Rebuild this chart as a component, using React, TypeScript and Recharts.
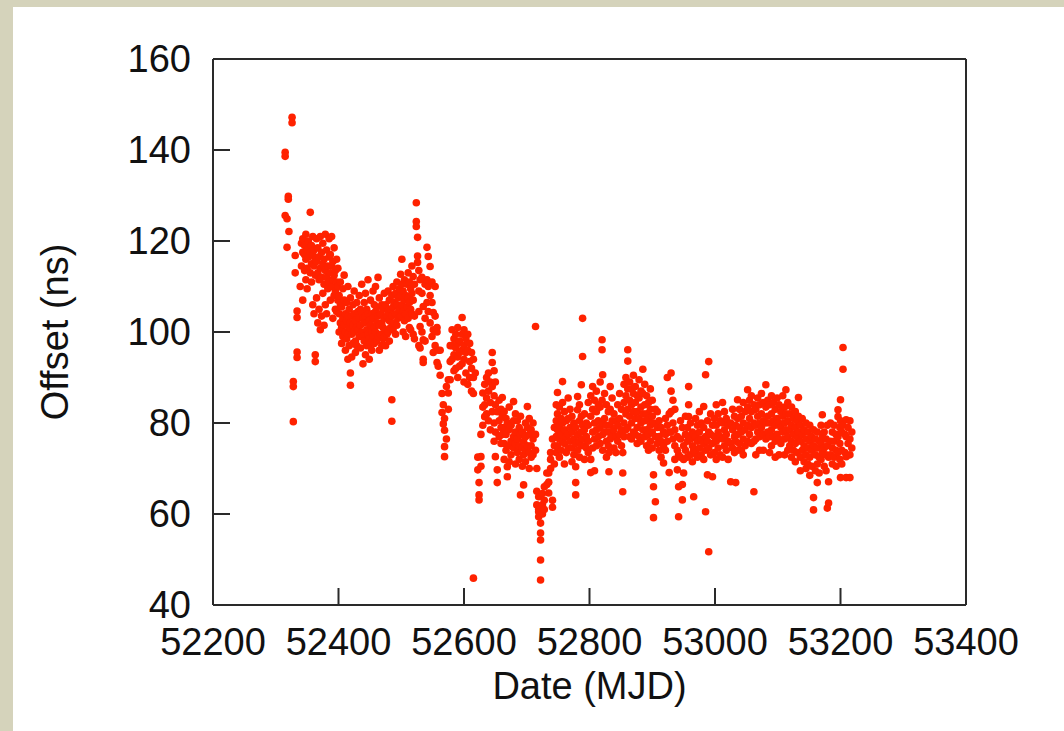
import React from 'react';
import { ScatterChart, Scatter, XAxis, YAxis } from 'recharts';

// Tick values
const xTicks = [52200, 52400, 52600, 52800, 53000, 53200, 53400];
const yTicks = [40, 60, 80, 100, 120, 140, 160];

// Each row: [MJD, offset (ns), offset (ns), ...]
const early2002: number[][] = [
  [52315, 139.5, 138.6, 125.6],
  [52318, 124.9, 118.6],
  [52320, 129.8, 129.2],
  [52321, 122.1],
  [52326, 147.2, 146.0],
  [52328, 89.1, 88.0, 80.3],
  [52331, 116.8, 113.0],
  [52334, 104.6, 103.2, 95.6, 94.4],
  [52339, 110.0],
  [52341, 119.5, 114.5],
  [52343, 117.5, 120.5, 107],
  [52346, 119, 113.5, 117],
  [52348, 121.5, 116, 111.5],
  [52350, 118, 114, 109.5],
  [52352, 120, 116.5],
  [52355, 126.3, 117.5, 113],
  [52357, 119, 115, 111],
  [52359, 121, 117, 106],
  [52361, 118, 114.5, 104],
  [52363, 116, 112.5, 95, 93.5],
  [52365, 120.5, 115.5, 107.5],
  [52367, 118.5, 113, 102],
  [52369, 116.5, 111.5, 105],
  [52371, 121, 114, 100.5],
  [52373, 117.5, 112, 103.5],
  [52375, 119.5, 115, 108.5],
  [52377, 116, 110.5, 101.5],
  [52379, 121.5, 113.5, 106],
  [52381, 118, 112, 104],
  [52383, 114.5, 109.5],
  [52385, 120.5, 116.5, 111],
  [52387, 117, 113, 107],
  [52389, 121, 114.5, 110],
  [52391, 115.5, 111.5, 103],
  [52393, 118.5, 112.5, 108],
  [52395, 113.5, 109, 105],
  [52397, 116, 111, 104.5],
  [52399, 114, 110, 107],
];

const mid2002: number[][] = [
  [52401, 108, 104, 100],
  [52403, 111, 106, 102],
  [52405, 105.5, 101, 97.5],
  [52407, 109.5, 103, 99],
  [52409, 112.5, 107, 101.5],
  [52411, 104, 100, 96],
  [52413, 106.5, 102.5, 98.5],
  [52415, 110, 103.5, 99.5, 94],
  [52417, 105, 101, 97],
  [52419, 107.5, 102, 91, 88.3],
  [52421, 103.5, 99.5, 94.5],
  [52423, 106, 101.5, 97.5],
  [52425, 109, 104, 100],
  [52427, 102.5, 98, 95.5],
  [52429, 106.5, 101, 97],
  [52431, 104.5, 100.5],
  [52433, 108, 103, 99],
  [52435, 105, 101.5, 96.5],
  [52437, 110.5, 104.5, 100],
  [52439, 103, 99, 93],
  [52441, 106.5, 102, 98],
  [52443, 108.5, 103.5, 95],
  [52445, 105, 100.5, 97],
  [52447, 111.5, 104, 99.5],
  [52449, 102.5, 98.5, 94],
  [52451, 107, 101.5, 97.5],
  [52453, 104, 100, 96],
  [52455, 109, 103, 99],
  [52457, 106, 101, 97.5],
  [52459, 110, 104.5, 100],
  [52461, 105.5, 102, 98],
  [52463, 112, 103.5, 99],
  [52465, 107.5, 101.5, 96],
  [52467, 104, 99.5],
  [52469, 106, 102, 97],
];

const late2002: number[][] = [
  [52471, 105, 101, 98.5],
  [52473, 108.5, 103, 99],
  [52475, 106, 100.5, 97],
  [52477, 103.5, 99.5],
  [52479, 109, 104.5, 100],
  [52481, 107, 102.5, 98],
  [52483, 105, 101],
  [52485, 108, 103.5, 85.1, 80.4],
  [52487, 110, 105.5, 100.5],
  [52489, 106.5, 102],
  [52491, 108.5, 104, 99.5],
  [52493, 111, 106, 101.5],
  [52495, 107.5, 103],
  [52497, 109.5, 105],
  [52499, 112.7, 108, 103.5],
  [52501, 116, 110.5, 106],
  [52503, 109, 104.5, 100],
  [52505, 111.5, 107, 102.5],
  [52507, 108, 104, 99],
  [52509, 110.5, 105.5],
  [52511, 113, 107.5, 103],
  [52513, 111, 106.5, 101],
  [52515, 109.5, 105, 100.5],
  [52517, 114.5, 108.5, 104],
  [52519, 112.2, 107, 99.5],
  [52521, 110.5, 103.5, 98.5],
  [52524, 128.4, 124.3, 123.2],
  [52526, 120.8, 116.7, 115.3],
  [52528, 113.5, 109, 104.5, 97],
  [52530, 111.5, 101.2, 96.5],
  [52533, 112, 108.5, 100],
  [52535, 105.6, 98.3, 94, 93.3],
  [52538, 110.5, 103, 98],
  [52541, 118.6, 111.5, 106.5],
  [52543, 116.6, 110, 104.5],
  [52546, 114.4, 108, 102],
  [52549, 111, 106.5, 99],
  [52551, 104.3, 100.5, 95.5],
  [52554, 110, 103.5, 97],
  [52557, 101, 100, 93.3],
  [52559, 96, 92.5],
  [52562, 96, 90.5],
];

const turn2002: number[][] = [
  [52565, 86.5, 82.3],
  [52567, 84, 79.8],
  [52569, 81, 78.4, 74.8, 72.6],
  [52572, 88, 76.5],
  [52575, 89.5, 86.6, 83],
  [52578, 97, 93.5, 89.5],
  [52581, 100.5, 97, 94],
  [52584, 98.5, 95, 91.5],
  [52587, 99.5, 96.5, 92],
  [52590, 101, 97.5, 94.5, 90],
  [52593, 98, 95.5, 92.5],
  [52597, 103.2, 99.5, 96, 93],
  [52600, 100.5, 97, 94, 89],
  [52603, 98.5, 95.5, 91],
  [52606, 99.5, 96, 88.5],
  [52609, 97.5, 93.5, 90],
  [52612, 95.5, 92, 87],
  [52615, 94, 90, 86.5, 45.9],
  [52618, 91],
  [52622, 72.5, 69.7],
  [52624, 66.9, 64.2, 63.1],
  [52627, 70.5, 72.6, 77.5],
  [52630, 86.6, 83.5, 79.5],
  [52633, 88.5, 84, 81.4],
  [52636, 90, 85.5, 82],
  [52639, 91, 87, 80.5],
  [52642, 89, 84.5, 78.5],
  [52645, 95.5, 93.3, 88, 82.5],
  [52648, 91.5, 86, 80, 76],
  [52650, 89, 84, 72.6, 78],
  [52653, 82.5, 69.7, 66.9],
  [52656, 85, 80.5, 77],
  [52659, 83, 79, 75.5],
];

const early2003: number[][] = [
  [52661, 85.6, 81.5, 77.5],
  [52664, 82.5, 79, 75.5, 72],
  [52667, 81, 77.5, 74],
  [52669, 80, 70.4, 68.2],
  [52672, 83.5, 78.5, 75, 71.5],
  [52675, 79.5, 76, 73],
  [52679, 84.7, 80.5, 77, 74.5],
  [52682, 82, 78, 75.5, 71],
  [52685, 80.5, 76.5, 73.5],
  [52688, 79, 75, 72],
  [52690, 64.2, 81.5, 77.5],
  [52693, 78, 74.5, 70.5],
  [52695, 66.4, 76, 73],
  [52698, 80, 77, 74, 71.5],
  [52701, 83.6, 79, 75],
  [52704, 81, 77.5, 73.5, 70],
  [52707, 78.5, 75, 72.5],
  [52710, 80, 76.5, 73],
  [52714, 101.2, 77.5, 74],
  [52716, 70, 65, 62],
  [52719, 63.8, 61, 59.4, 60.5],
  [52722, 55.8, 54.3, 49.9, 45.5, 58],
  [52725, 62, 64.5, 60],
  [52728, 66, 63, 61],
  [52732, 69, 66.5],
  [52735, 69, 64.6, 67],
  [52738, 73.5, 72, 70],
  [52741, 63, 61.5, 76.5],
  [52744, 79, 75, 71],
  [52747, 84, 80.5, 77, 73.5],
  [52749, 86.7, 82, 78.5, 75],
  [52752, 83.5, 79.5, 76.5, 72.5],
  [52755, 81, 77.5, 74],
  [52757, 89.1, 84.5, 80, 76],
  [52760, 82.5, 78.5, 75.5, 71],
  [52763, 80.5, 77, 73.5],
  [52766, 85.5, 81, 77.5, 74.5],
  [52769, 83, 79, 76],
  [52772, 81.5, 78, 74.5, 71.5],
  [52775, 80, 76.5, 73],
  [52778, 70.4, 66.9, 64.2, 79, 75.5],
  [52781, 85.8, 82.9, 77.5, 74],
  [52784, 84, 80.5, 76, 72.5],
  [52787, 88.4, 81.5, 78, 75],
  [52789, 103, 94.6, 79.5, 76.5],
];

const mid2003: number[][] = [
  [52792, 82, 78.5, 75, 72],
  [52795, 80, 77, 74.5],
  [52798, 84.5, 79.5, 76, 73.5],
  [52802, 86, 81.5, 72, 69.1],
  [52805, 88, 83, 78, 74.5],
  [52808, 85, 80, 76.5, 69.5],
  [52811, 87, 82.5, 78.5, 75],
  [52814, 84, 80.5, 77],
  [52817, 89, 83.5, 79, 75.5],
  [52820, 98.3, 96.1, 85, 80],
  [52821, 90.6, 77.5, 74],
  [52824, 86.5, 81, 78],
  [52827, 84, 79.5, 76, 72.5],
  [52830, 82.5, 78, 75],
  [52831, 73.5, 69.3],
  [52833, 88, 83, 79.5, 76.5],
  [52836, 85.5, 80.5, 77],
  [52839, 82, 78.5, 74.5],
  [52842, 80.5, 77, 73.5],
  [52845, 84, 79.5, 76],
  [52848, 86.5, 81, 77.5],
  [52851, 83, 78.5, 75],
  [52853, 73.5, 69, 64.9],
  [52855, 88.5, 84.5, 80, 77],
  [52858, 90, 86, 82, 78.5],
  [52861, 96.1, 93.6, 87.5, 83, 79],
  [52864, 89, 85, 81.5, 77],
  [52867, 87.5, 84, 80, 76.5],
  [52870, 90.5, 86.5, 82.5, 78],
  [52873, 88, 84.5, 81, 77.5],
  [52876, 86, 82.5, 79, 75.5],
  [52879, 89.5, 85.5, 81, 77],
  [52882, 87, 83.5, 80, 76],
  [52885, 91.8, 86.5, 82, 78.5],
  [52888, 88.5, 84, 80.5, 77],
  [52891, 86, 82, 78.5, 75],
  [52894, 84.5, 81, 77.5, 74],
  [52897, 87.5, 83, 79.5, 76],
  [52900, 85, 81.5, 78, 74.5],
  [52902, 68.6, 66, 59.2, 80],
  [52905, 62.7, 83, 77],
  [52908, 82.5, 79, 75.5],
  [52911, 80.5, 77, 74],
  [52914, 79, 76, 72.5],
  [52918, 71.2, 78, 75],
  [52921, 81, 77.5, 74],
  [52924, 90, 79.5, 76],
  [52927, 82, 78, 69.1],
];

const late2003: number[][] = [
  [52930, 91, 87, 82.5, 78],
  [52933, 85, 80, 76.5],
  [52936, 83, 78.5, 75, 72],
  [52940, 69.7, 77, 74],
  [52942, 59.4, 66, 73],
  [52945, 80.5, 76.5, 72.5],
  [52948, 63.1, 66.5, 79],
  [52950, 75, 72, 69],
  [52953, 81.5, 77.5, 74],
  [52956, 79, 76, 72.5],
  [52958, 88, 84, 81.4, 77],
  [52961, 80, 76.5, 73],
  [52964, 78, 75, 71.5],
  [52966, 63.8, 77.5, 74],
  [52969, 81, 77, 73.5],
  [52972, 79.5, 76, 72.5],
  [52975, 82.5, 78, 74.5],
  [52978, 80, 76.5, 73],
  [52982, 83.6, 79, 75.5, 72],
  [52985, 90.6, 60.5, 77, 74],
  [52988, 68.6, 80.5, 76],
  [52990, 93.5, 51.7, 78, 74.5],
  [52993, 82, 77.5, 73],
  [52996, 68.2, 79.5, 75.5],
  [52999, 81, 77, 73.5],
  [53002, 84, 79.5, 76, 72],
  [53005, 82, 78, 74.5],
  [53008, 80.5, 77, 73],
  [53012, 84.5, 80, 76.5, 72.5],
  [53015, 82.5, 78.5, 75],
  [53018, 81, 77.5, 74],
  [53021, 79.5, 76, 72],
  [53025, 67.1, 80, 75.5],
  [53028, 83, 78.5, 74.5],
  [53031, 81.5, 77, 73.5],
  [53033, 66.9, 79.5, 76],
  [53036, 85.1, 81, 77.5, 74],
  [53039, 83, 79, 75.5],
  [53042, 81.5, 78, 74],
  [53045, 84.5, 80, 76.5, 73],
  [53048, 82.5, 78.5, 75],
  [53052, 87.3, 83.5, 79.5, 76],
  [53055, 85, 81, 77.5],
  [53058, 86, 82.5, 79, 75.5],
  [53062, 64.9, 84, 80, 76],
  [53065, 83, 79.5, 76.5, 73],
  [53068, 85.5, 81.5, 78],
  [53071, 84, 80, 77, 74],
  [53074, 86.5, 82, 79],
  [53077, 84.5, 80.5, 77.5, 74],
  [53081, 88.4, 83.5, 80, 76.5],
  [53084, 85, 81.5, 78],
  [53087, 84, 80, 77, 73.5],
];

const year2004: number[][] = [
  [53090, 86, 82, 78.5, 75],
  [53093, 84.5, 80.5, 77],
  [53096, 83, 79.5, 76, 72.5],
  [53099, 85.5, 81, 77.5],
  [53102, 84, 80, 76.5, 73],
  [53105, 82.5, 79, 75.5],
  [53108, 86, 81.5, 78],
  [53111, 83.5, 80, 76.5, 73],
  [53113, 87.3, 82, 78.5],
  [53116, 84.5, 80.5, 77, 74],
  [53119, 82, 78.5, 75],
  [53122, 83.5, 79.5, 76, 72.5],
  [53125, 81, 77.5, 74],
  [53128, 82.5, 79, 75.5, 71.5],
  [53131, 80.5, 77, 73.5],
  [53133, 85.6, 81.5, 78],
  [53136, 79.5, 76, 72.5, 69.5],
  [53139, 81, 77.5, 74],
  [53142, 78.5, 75, 71.5],
  [53145, 80, 76.5, 73, 70],
  [53148, 78, 74.5, 71],
  [53151, 79.5, 76, 72.5, 68.5],
  [53154, 77, 74, 70.5],
  [53157, 63.6, 60.9, 78.5, 75],
  [53160, 76.5, 73, 69.5],
  [53163, 66.9, 78, 74.5, 71],
  [53166, 76, 72.5, 69],
  [53169, 79.5, 75.5, 72],
  [53171, 81.8, 77, 73.5],
  [53174, 78, 74.5, 70.5],
  [53177, 76.5, 73, 69.5],
  [53179, 61.3, 79.5, 75],
  [53181, 67.1, 62.4, 72.5],
  [53184, 80, 76, 73],
  [53187, 78, 74.5, 71],
  [53190, 79.5, 76, 72.5],
  [53193, 77.5, 74, 70.5],
  [53196, 82.9, 81.4, 77, 73.5],
  [53199, 79, 75.5, 72],
  [53200, 85.1, 68, 80.5],
  [53202, 78, 74, 71],
  [53204, 96.6, 91.8, 79.5],
  [53207, 77.5, 73.5],
  [53209, 80.7, 77, 72.6, 68],
  [53212, 79, 75.5],
  [53215, 80.5, 76.5, 73, 68],
  [53218, 78, 74.5],
];

const segments = [early2002, mid2002, late2002, turn2002, early2003, mid2003, late2003, year2004];
const points = segments.flatMap((seg) =>
  seg.flatMap(([mjd, ...offsets]) => offsets.map((ns) => ({ mjd, ns })))
);

const FONT = '"Liberation Sans", Arial, Helvetica, sans-serif';
const AXIS_COLOR = '#2a2a2a';
const axisLineStyle = { stroke: AXIS_COLOR, strokeWidth: 2 };
const tickStyle = { fill: '#111', fontSize: 38, fontFamily: FONT };

const Dot = (props: any) => {
  const { cx, cy } = props;
  if (cx == null || cy == null) return <g />;
  return <circle cx={cx} cy={cy} r={3.8} fill="#ff2200" />;
};

export default function App() {
  return (
    <div
      style={{
        position: 'absolute',
        left: 0,
        top: 0,
        width: 1064,
        height: 731,
        background: '#d5d3bb',
        overflow: 'hidden',
      }}
    >
      <div
        style={{
          position: 'absolute',
          left: 13,
          top: 7,
          right: 0,
          bottom: 0,
          background: '#ffffff',
        }}
      />
      <div style={{ position: 'absolute', left: 0, top: 0 }}>
        <ScatterChart
          width={1064}
          height={731}
          margin={{ top: 49, right: 88, bottom: 26, left: 13 }}
        >
          <XAxis
            xAxisId="b"
            dataKey="mjd"
            type="number"
            domain={[52200, 53400]}
            ticks={xTicks}
            allowDataOverflow
            height={100}
            tickSize={-17}
            tickMargin={40}
            axisLine={axisLineStyle}
            tickLine={axisLineStyle}
            tick={tickStyle}
            interval={0}
            label={{
              value: 'Date (MJD)',
              position: 'insideBottom',
              offset: 6,
              style: { fill: '#111', fontSize: 38, fontFamily: FONT },
            }}
          />
          <XAxis
            xAxisId="t"
            orientation="top"
            type="number"
            domain={[52200, 53400]}
            ticks={xTicks}
            allowDataOverflow
            height={10}
            tickSize={-17}
            axisLine={axisLineStyle}
            tickLine={axisLineStyle}
            tick={false}
            interval={0}
          />
          <YAxis
            yAxisId="l"
            dataKey="ns"
            type="number"
            domain={[40, 160]}
            ticks={yTicks}
            allowDataOverflow
            width={200}
            tickSize={-17}
            tickMargin={39}
            axisLine={axisLineStyle}
            tickLine={axisLineStyle}
            tick={tickStyle}
            interval={0}
            label={{
              value: 'Offset (ns)',
              angle: -90,
              position: 'insideLeft',
              offset: 42,
              style: { fill: '#111', fontSize: 38, fontFamily: FONT, textAnchor: 'middle' },
            }}
          />
          <YAxis
            yAxisId="r"
            orientation="right"
            type="number"
            domain={[40, 160]}
            ticks={yTicks}
            allowDataOverflow
            width={10}
            tickSize={-17}
            axisLine={axisLineStyle}
            tickLine={axisLineStyle}
            tick={false}
            interval={0}
          />
          <Scatter
            xAxisId="b"
            yAxisId="l"
            data={points}
            dataKey="ns"
            shape={Dot}
            isAnimationActive={false}
          />
        </ScatterChart>
      </div>
    </div>
  );
}
